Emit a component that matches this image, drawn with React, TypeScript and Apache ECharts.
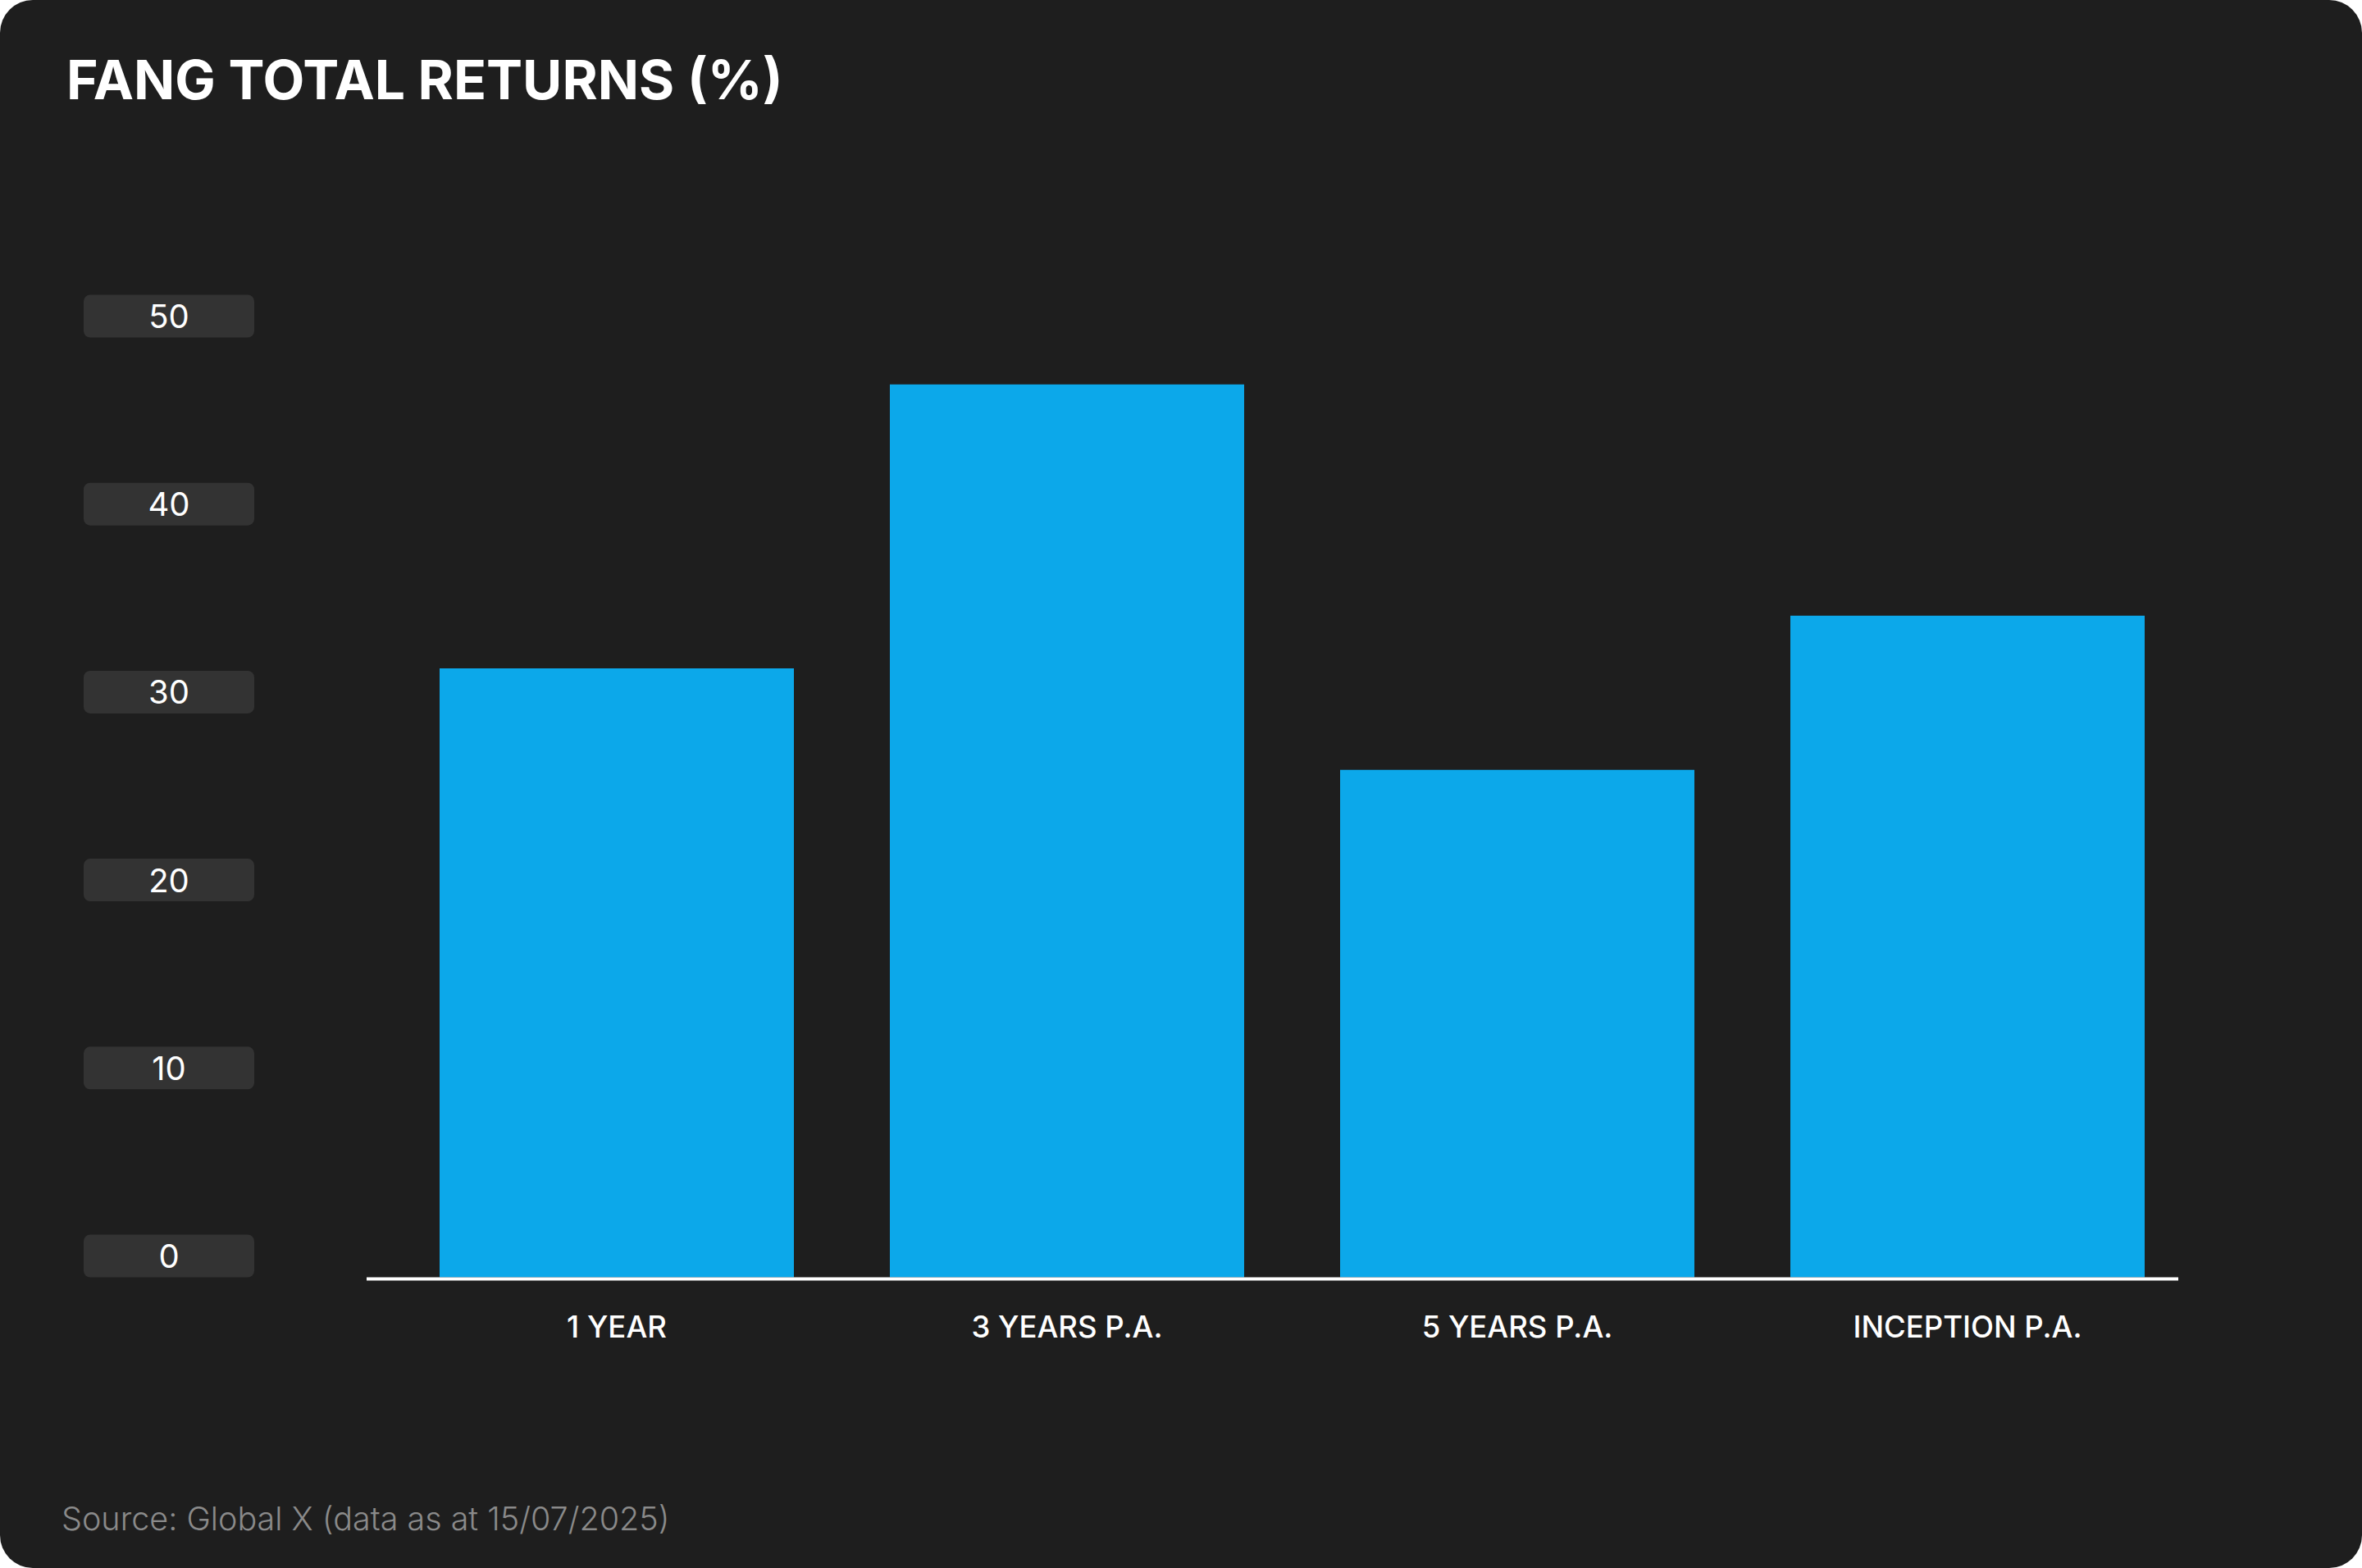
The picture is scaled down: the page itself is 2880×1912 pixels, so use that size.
import React, { useEffect, useRef } from "react";
import * as echarts from "echarts";

const categories = ["1 YEAR", "3 YEARS P.A.", "5 YEARS P.A.", "INCEPTION P.A."];
const returnsPct = [32.4, 47.5, 27.0, 35.2];
const yTicks = [0, 10, 20, 30, 40, 50];
const titleText = "FANG TOTAL RETURNS (%)";
const sourceText = "Source: Global X (data as at 15/07/2025)";

const W = 2880;
const H = 1912;

export default function App() {
  const ref = useRef<HTMLDivElement>(null);
  useEffect(() => {
    if (!ref.current) return;
    const chart = echarts.init(ref.current, null, { renderer: "svg", width: W, height: H });
    const gridLeft = 477.5;
    const gridRight = 206.5;
    const gridTop = 411.5;
    const gridBottom = 354.5;
    chart.setOption({
      animation: false,
      backgroundColor: "transparent",
      textStyle: { fontFamily: "Inter" },
      title: {
        text: titleText,
        left: 81,
        top: 62,
        padding: 0,
        textStyle: { fontFamily: "Inter", fontWeight: "bold", fontSize: 66, color: "#ffffff", lineHeight: 70 },
      },
      grid: { left: gridLeft, right: gridRight, top: gridTop, bottom: gridBottom, containLabel: false },
      xAxis: {
        type: "category",
        data: categories,
        axisLine: { show: false },
        axisTick: { show: false },
        axisLabel: {
          color: "#ffffff",
          fontFamily: "Inter",
          fontSize: 36.5,
          fontWeight: 500,
          margin: 60,
          verticalAlign: "middle",
          lineHeight: 36,
        },
      },
      yAxis: {
        type: "value",
        min: yTicks[0],
        max: yTicks[yTicks.length - 1],
        interval: 10,
        splitLine: { show: false },
        axisLine: { show: false },
        axisTick: { show: false },
        axisLabel: {
          color: "#ffffff",
          fontFamily: "Inter",
          fontSize: 40,
          margin: 271.5,
          align: "center",
          verticalAlign: "bottom",
          backgroundColor: "#333333",
          borderRadius: 8,
          width: 208,
          height: 52,
          lineHeight: 52,
          padding: 0,
        },
      },
      series: [
        {
          type: "bar",
          data: returnsPct,
          barWidth: 432,
          itemStyle: { color: "#0ca8ea" },
        },
      ],
      graphic: [
        {
          type: "line",
          shape: { x1: 447, y1: 1559.5, x2: 2656, y2: 1559.5 },
          style: { stroke: "#ffffff", lineWidth: 4 },
          z: 10,
        },
        {
          type: "text",
          left: 75,
          top: 1832,
          style: {
            text: sourceText,
            fill: "#8a8a8a",
            font: "300 39.5px Inter",
          },
        },
      ],
    });
    return () => chart.dispose();
  }, []);
  return (
    <div
      style={{
        position: "absolute",
        left: 0,
        top: 0,
        width: W,
        height: H,
        background: "#1e1e1e",
        borderRadius: 40,
        overflow: "hidden",
      }}
    >
      <div ref={ref} style={{ width: W, height: H }} />
    </div>
  );
}
